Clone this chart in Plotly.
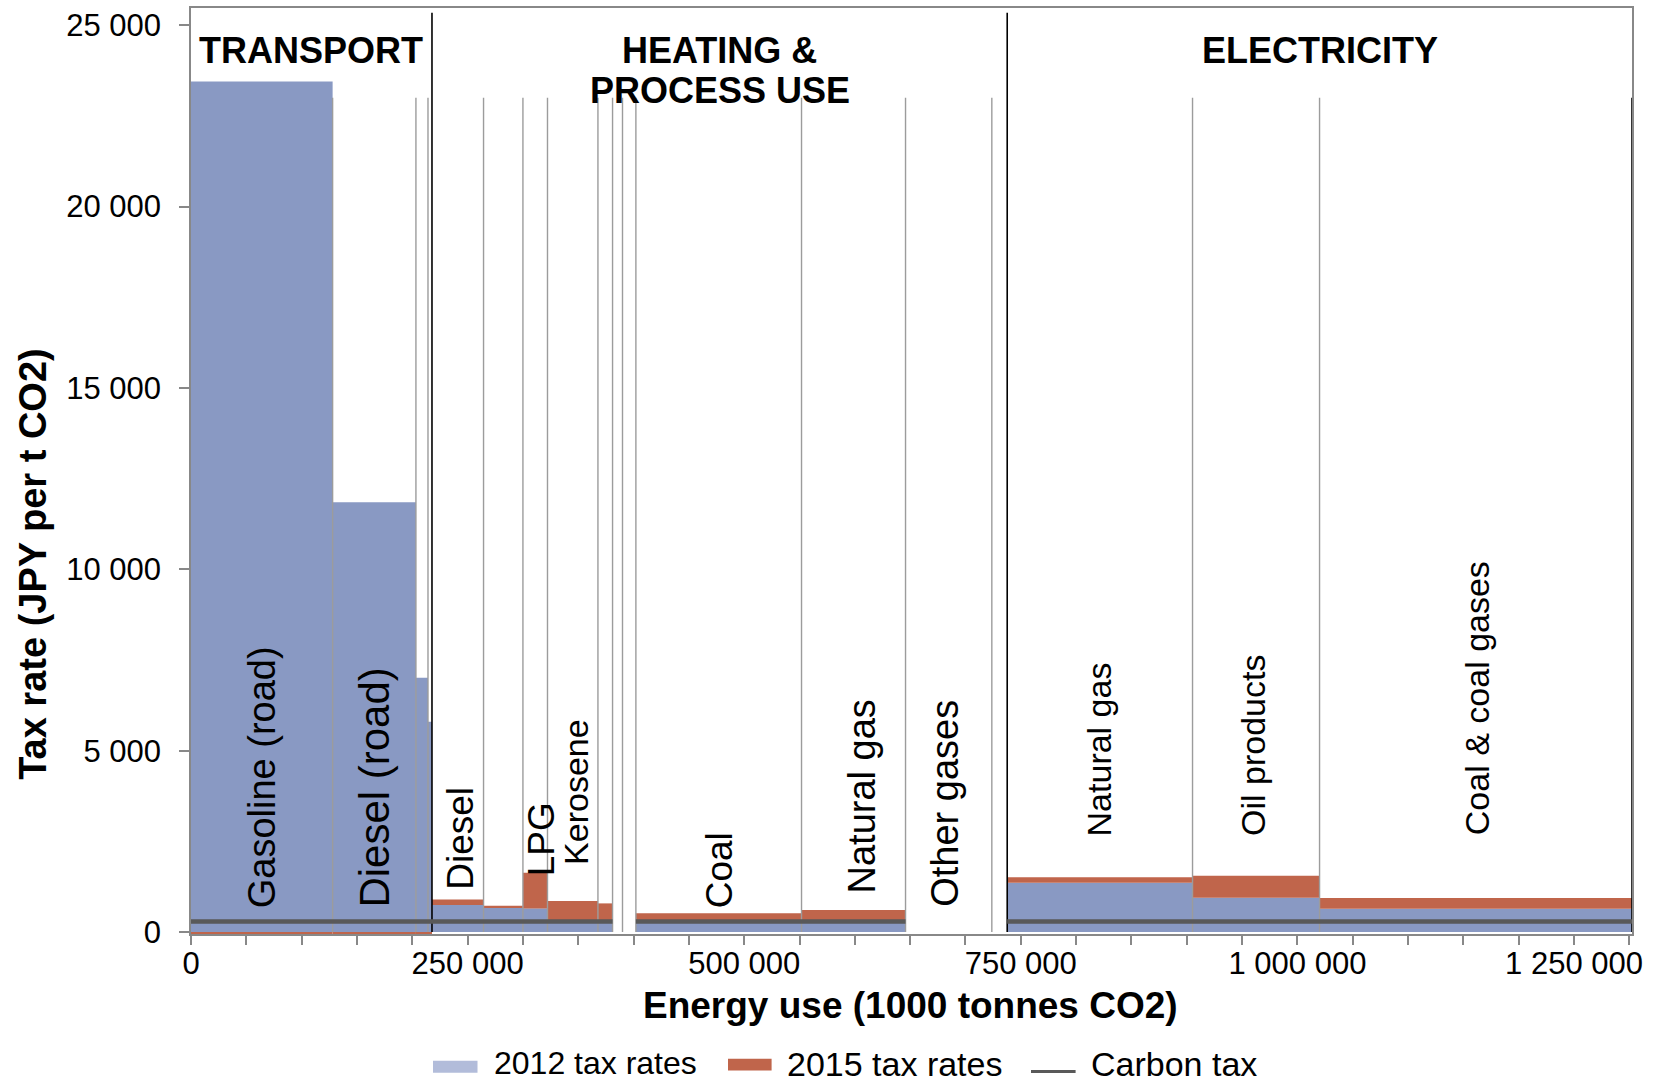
import plotly.graph_objects as go

# ---------------- data ----------------
# cumulative energy-use boundaries of each fuel segment (1000 tonnes CO2)
bounds = [0, 128000, 203300, 214200, 217800, 264400, 300000, 322200, 367800,
          381000, 390000, 402100, 551800, 645800, 723800, 737700, 905200,
          1020000, 1302400]
# tax rates per segment (JPY per t CO2)
tax_2012 = [23450, 11850, 7010, 5800, 743, 679, 651, 280, 280, 0, 0,
            280, 280, 0, 0, 1357, 944, 641]
tax_2015 = [23395, 11795, 6955, 5745, 899, 724, 1632, 853, 789, 0, 0,
            514, 605, 0, 0, 1513, 1549, 935]
carbon_tax = [289, 289, 289, 289, 289, 289, 289, 289, 289, None, None,
              289, 289, None, None, 289, 289, 289]
seg_labels = ["Gasoline (road)", "Diesel (road)", "", "", "Diesel", "", "LPG",
              "Kerosene", "", "", "", "Coal", "Natural gas", "Other gases", "",
              "Natural gas", "Oil products", "Coal & coal gases"]
sector_titles = [["TRANSPORT"], ["HEATING &", "PROCESS USE"], ["ELECTRICITY"]]
sector_bounds = [0, 217800, 737700, 1302400]

y_tick_vals = [0, 5000, 10000, 15000, 20000, 25000]
y_tick_text = ["0", "5 000", "10 000", "15 000", "20 000", "25 000"]
x_tick_vals = [0, 250000, 500000, 750000, 1000000, 1250000]
x_tick_text = ["0", "250 000", "500 000", "750 000", "1 000 000", "1 250 000"]

legend_names = ["2012 tax rates", "2015 tax rates", "Carbon tax"]

# ---------------- styling / placement ----------------
BLUE = "#8999C3"
BLUE_LEG = "#B2BCDA"
ORANGE = "#C0654B"
CARBON = "#595959"
GRID = "#9C9C9C"
AXIS = "#888888"
FONT = "Liberation Sans, Arial, sans-serif"

# label placement (x position, bottom of rotated text, font size)
label_x = [64400, 165900, None, None, 243600, None, 316400, 348000, None, None,
           None, 477400, 606800, 682000, None, 820600, 959800, 1162000]
label_y = [605, 605, None, None, 1109, None, 1485, 1796, None, None, None,
           605, 1018, 642, None, 2578, 2605, 2605]
label_size = [38, 42, 0, 0, 37, 0, 37, 34, 0, 0, 0, 37, 38, 38, 0, 34, 34, 34]
header_y = [24300, 23200]
divider_top = 23000
sector_line_top = 25347

# ---------------- build figure ----------------
n = len(tax_2012)
starts = bounds[:-1]
ends = bounds[1:]
centers = [(a + b) / 2 for a, b in zip(starts, ends)]
widths = [b - a for a, b in zip(starts, ends)]

fig = go.Figure()

fig.add_trace(go.Bar(
    x=centers, y=tax_2012, width=widths, base=[0] * n,
    marker=dict(color=BLUE, line=dict(width=0)), name=legend_names[0],
    hoverinfo="skip"))

inc = [b - a for a, b in zip(tax_2012, tax_2015)]
base15 = [a if d >= 0 else 0 for a, d in zip(tax_2012, inc)]
fig.add_trace(go.Bar(
    x=centers, y=inc, width=widths, base=base15,
    marker=dict(color=ORANGE, line=dict(width=0)), name=legend_names[1],
    hoverinfo="skip"))

# thin grey segment dividers
sector_inner = set(sector_bounds[1:-1])
gx, gy = [], []
for b in bounds[1:-1]:
    if b in sector_inner:
        continue
    gx += [b, b, None]
    gy += [0, divider_top, None]
fig.add_trace(go.Scatter(x=gx, y=gy, mode="lines",
                         line=dict(color=GRID, width=1.4),
                         hoverinfo="skip", showlegend=False))

# black sector dividers and right edge
bx, by = [], []
for b in sector_bounds[1:-1]:
    bx += [b, b, None]
    by += [0, sector_line_top, None]
bx += [sector_bounds[-1], sector_bounds[-1], None]
by += [0, divider_top, None]
fig.add_trace(go.Scatter(x=bx, y=by, mode="lines",
                         line=dict(color="black", width=1.6),
                         hoverinfo="skip", showlegend=False))

# carbon tax line
cx, cy = [], []
prev = None
for s, e, v in zip(starts, ends, carbon_tax):
    if v is None:
        if prev is not None:
            cx.append(None)
            cy.append(None)
        prev = None
        continue
    cx += [s, e]
    cy += [v, v]
    prev = v
fig.add_trace(go.Scatter(x=cx, y=cy, mode="lines",
                         line=dict(color=CARBON, width=4.5),
                         name=legend_names[2], hoverinfo="skip"))

annotations = []
# segment labels
for t, lx, ly, fs in zip(seg_labels, label_x, label_y, label_size):
    if not t:
        continue
    annotations.append(dict(x=lx, y=ly, xref="x", yref="y", text=t,
                            textangle=-90, showarrow=False,
                            xanchor="center", yanchor="bottom",
                            font=dict(size=fs, color="black", family=FONT)))
# sector titles
for i, lines in enumerate(sector_titles):
    cxm = (sector_bounds[i] + sector_bounds[i + 1]) / 2
    for j, ln in enumerate(lines):
        annotations.append(dict(x=cxm, y=header_y[j], xref="x", yref="y",
                                text="<b>" + ln + "</b>", showarrow=False,
                                xanchor="center", yanchor="middle",
                                font=dict(size=36, color="black", family=FONT)))
# axis titles
annotations.append(dict(x=-0.1096, y=0.3998, xref="paper", yref="paper",
                        text="<b>Tax rate (JPY per t CO2)</b>", textangle=-90,
                        showarrow=False, xanchor="center", yanchor="middle",
                        font=dict(size=38, color="black", family=FONT)))
annotations.append(dict(x=0.499, y=-0.0776, xref="paper", yref="paper",
                        text="<b>Energy use (1000 tonnes CO2)</b>",
                        showarrow=False, xanchor="center", yanchor="middle",
                        font=dict(size=37, color="black", family=FONT)))

# custom legend
def px_x(p):
    return (p - 191) / 1441.0

def px_y(p):
    return (934 - p) / 928.0

shapes = [
    dict(type="rect", xref="paper", yref="paper", x0=px_x(433), x1=px_x(477.5),
         y0=px_y(1061), y1=px_y(1073), fillcolor=BLUE_LEG, line=dict(width=0)),
    dict(type="rect", xref="paper", yref="paper", x0=px_x(728), x1=px_x(771.6),
         y0=px_y(1059), y1=px_y(1070.7), fillcolor=ORANGE, line=dict(width=0)),
    dict(type="line", xref="paper", yref="paper", x0=px_x(1031), x1=px_x(1075.6),
         y0=px_y(1071.7), y1=px_y(1071.7), line=dict(color=CARBON, width=3)),
]
leg_text_x = [493, 786, 1090]
leg_text_y = [1063.5, 1064.5, 1064.5]
leg_text_size = [32, 34, 34]
for t, lx, ly, fs in zip(legend_names, leg_text_x, leg_text_y, leg_text_size):
    annotations.append(dict(x=px_x(lx), y=px_y(ly), xref="paper", yref="paper",
                            text=t, showarrow=False, xanchor="left",
                            yanchor="middle", borderpad=0,
                            font=dict(size=fs, color="black", family=FONT)))

fig.update_layout(
    width=1655, height=1084,
    margin=dict(l=191, r=23, t=6, b=150),
    plot_bgcolor="white", paper_bgcolor="white",
    showlegend=False, barmode="overlay",
    font=dict(family=FONT, color="black"),
    annotations=annotations, shapes=shapes,
)
fig.update_xaxes(
    range=[0, bounds[-1]], tickvals=x_tick_vals, ticktext=x_tick_text,
    ticks="outside", ticklen=9, tickcolor=AXIS, tickwidth=1.5,
    minor=dict(dtick=50000, tick0=0, ticks="outside", ticklen=9,
               tickcolor=AXIS, tickwidth=1.5, showgrid=False),
    showgrid=False, zeroline=False, showline=True, linecolor=AXIS,
    linewidth=1.5, mirror=True, ticklabelstandoff=-8,
    tickfont=dict(size=31, color="black", family=FONT),
)
fig.update_yaxes(
    range=[-55, 25475], tickvals=y_tick_vals, ticktext=y_tick_text,
    ticks="outside", ticklen=10, tickcolor=AXIS, tickwidth=1.5,
    showgrid=False, zeroline=False, showline=True, linecolor=AXIS,
    linewidth=1.5, mirror=True, ticklabelstandoff=12,
    tickfont=dict(size=31, color="black", family=FONT),
)

fig.write_html(
    "out.html",
    config={"displayModeBar": False},
    post_script="document.body.style.margin='0';document.body.style.overflow='hidden';",
)
